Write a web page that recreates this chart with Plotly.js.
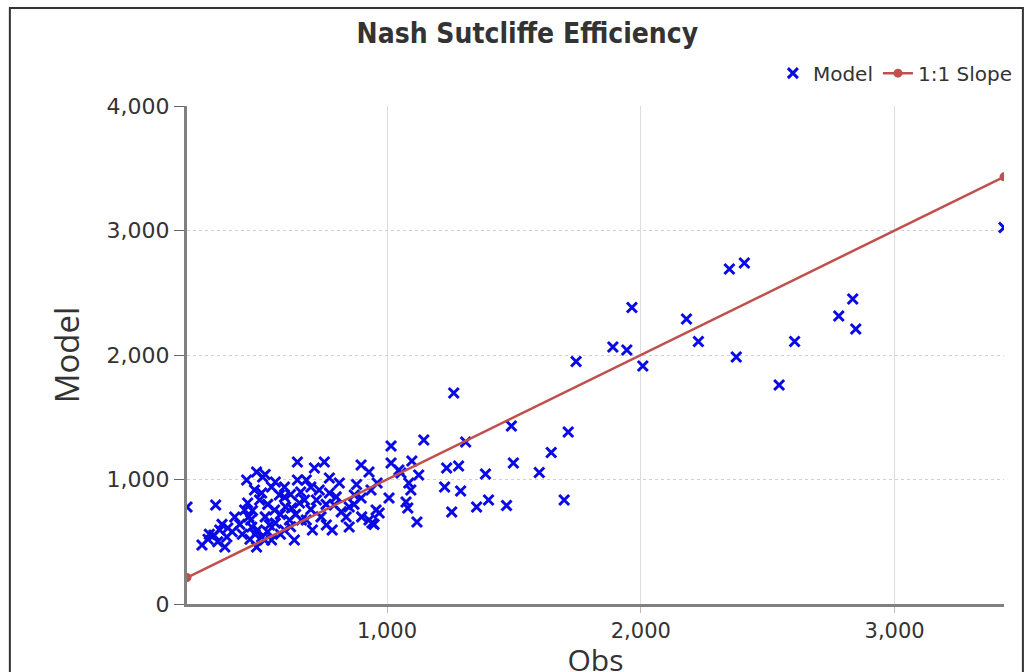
<!DOCTYPE html>
<html>
<head>
<meta charset="utf-8">
<script src="https://cdn.plot.ly/plotly-3.0.1.min.js"></script>
<style>
html,body{margin:0;padding:0;background:#fff;overflow:hidden;}
#chart{width:1030px;height:680px;}
</style>
</head>
<body>
<div id="chart"></div>
<script>
// Observed values (x) and modelled values (y)
const obs = [
  212, 325, 271, 318, 341, 369, 361, 400, 373, 333, 295, 300, 350, 420, 390, 430,
  447, 486, 510, 451, 478, 498, 439, 463, 490, 467, 506, 486, 518, 545, 537, 557,
  576, 545, 596, 596, 506, 624, 596, 635, 616, 663, 647, 647, 675, 655, 682, 682,
  706, 714, 722, 733, 753, 761, 773, 773, 784, 792, 812, 839, 851, 851, 871, 898,
  898, 929, 929, 937, 949, 957, 961, 969, 941, 1008, 1016, 1016, 1047, 1055, 1075, 1086,
  1094, 1098, 1082, 1118, 1125, 1145,
  455, 470, 520, 530, 560, 580, 600, 620, 640, 560, 520, 480, 460, 530, 580, 620,
  700, 740, 660, 700, 760, 800, 820, 870, 880, 900,
  1235, 1282, 1227, 1290, 1255, 1353, 1400, 1388, 1310, 1263, 1490, 1498, 1471, 1600, 1647, 1714,
  1698, 1745, 1890, 1945, 1965, 2008, 2180, 2227, 2376, 2349, 2408, 2545, 2606, 2780, 2835, 2847,
  3431
];
const model = [
  779, 795, 474, 554, 594, 538, 458, 699, 610, 500, 520, 560, 640, 640, 580, 560,
  996, 1060, 1020, 811, 916, 835, 755, 675, 594, 618, 538, 458, 514, 514, 635, 755,
  876, 940, 940, 859, 892, 771, 594, 514, 675, 675, 1141, 996, 835, 811, 996, 675,
  594, 1092, 835, 916, 1141, 635, 892, 1012, 594, 795, 972, 699, 779, 618, 876, 1116,
  851, 1060, 675, 916, 640, 755, 972, 731, 651, 851, 1269, 1133, 1076, 1052, 819, 972,
  916, 1149, 771, 659, 1036, 1317,
  700, 750, 700, 800, 650, 720, 780, 880, 720, 980, 1040, 560, 520, 580, 560, 620,
  760, 700, 900, 940, 800, 860, 740, 800, 960, 700,
  1092, 1108, 940, 908, 739, 779, 835, 1044, 1301, 1695, 1430, 1133, 791, 1056, 1217, 1382,
  835, 1948, 2064, 2040, 2382, 1912, 2289, 2108, 1984, 2691, 2739, 1759, 2108, 2313, 2450, 2209,
  3024
];
// 1:1 reference line end points
const slopeX = [212, 3431];
const slopeY = [212, 3431];

const xRange = [212, 3431];
const yRange = [0, 4000];

const traces = [
  {
    type: 'scatter', mode: 'markers', name: 'Model',
    x: obs, y: model,
    marker: {symbol: 'x-thin', size: 10, color: '#0a0ae6', line: {width: 3, color: '#0a0ae6'}},
    cliponaxis: true
  },
  {
    type: 'scatter', mode: 'lines+markers', name: '1:1 Slope',
    x: slopeX, y: slopeY,
    line: {color: '#c0504d', width: 2.5},
    marker: {symbol: 'circle', size: 9, color: '#c0504d'},
    cliponaxis: true
  }
];

const layout = {
  width: 1030, height: 680,
  margin: {l: 187, r: 22, t: 106, b: 76, pad: 0},
  paper_bgcolor: '#ffffff', plot_bgcolor: '#ffffff',
  showlegend: true,
  title: {
    text: 'Nash Sutcliffe Efficiency',
    font: {family: 'DejaVu Sans Condensed, Liberation Sans Narrow, DejaVu Sans, sans-serif', size: 28, color: '#333333', weight: 'bold'},
    x: 0.512, xanchor: 'center', y: 1 - 33 / 680, yanchor: 'middle'
  },
  legend: {
    orientation: 'h', x: 1.017, xanchor: 'right', y: 1.066, yanchor: 'middle',
    font: {family: 'DejaVu Sans, sans-serif', size: 20, color: '#333'},
    bgcolor: 'rgba(0,0,0,0)', itemwidth: 30, tracegroupgap: 0
  },
  xaxis: {
    range: xRange, tickvals: [1000, 2000, 3000], ticktext: ['1,000', '2,000', '3,000'],
    showline: true, linecolor: '#808080', linewidth: 3,
    showgrid: true, gridcolor: '#dcdcdc', gridwidth: 1,
    ticks: 'outside', ticklen: 6, tickcolor: '#bbbbbb', tickwidth: 1,
    tickfont: {family: 'DejaVu Sans, sans-serif', size: 21, color: '#333'},
    zeroline: false,
    title: {text: 'Obs', font: {family: 'Open Sans, sans-serif', size: 30, color: '#333'}, standoff: 1}
  },
  yaxis: {
    range: yRange, tickvals: [0, 1000, 2000, 3000, 4000], ticktext: ['0', '1,000', '2,000', '3,000', '4,000'],
    showline: true, linecolor: '#808080', linewidth: 3,
    showgrid: true, gridcolor: '#d0d0d0', gridwidth: 1, griddash: 'dot',
    ticks: 'outside', ticklen: 10, tickcolor: '#666', tickwidth: 1,
    tickfont: {family: 'DejaVu Sans, sans-serif', size: 22, color: '#333'},
    zeroline: false,
    title: {text: 'Model', font: {family: 'Open Sans, sans-serif', size: 33, color: '#333'}, standoff: 18}
  },
  shapes: [
    {type: 'rect', xref: 'paper', yref: 'paper',
     x0: (9 - 187) / 821, x1: (1027 - 187) / 821, y0: -0.3, y1: 1 + (106 - 8) / 498,
     line: {color: '#333', width: 2}, fillcolor: 'rgba(0,0,0,0)', layer: 'above'}
  ]
};

Plotly.newPlot('chart', traces, layout, {displayModeBar: false, responsive: false});
</script>
</body>
</html>
